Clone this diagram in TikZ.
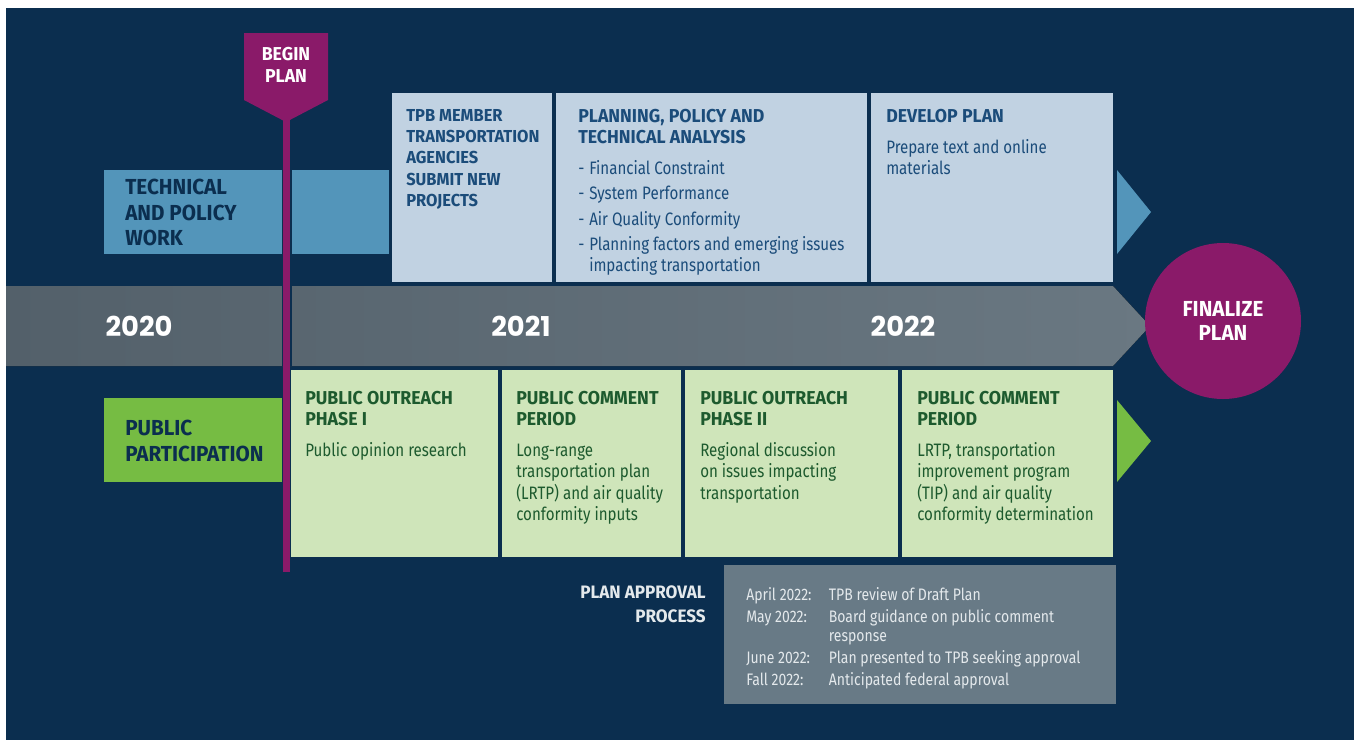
\documentclass[tikz,border=0pt]{standalone}
\usepackage{fontspec}
\setmainfont{Fira Sans}[UprightFeatures={FakeStretch=0.84}, BoldFeatures={FakeStretch=0.95}]
\newfontfamily\yearfont{Poppins}
\usepackage{xcolor}
\usetikzlibrary{positioning, calc}

\definecolor{navy}{HTML}{0B2E4F}
\definecolor{plum}{HTML}{8A1A69}
\definecolor{techblue}{HTML}{5395BA}
\definecolor{paleblue}{HTML}{C1D2E2}
\definecolor{bluetext}{HTML}{1B4C7A}
\definecolor{pubgreen}{HTML}{76BC43}
\definecolor{palegreen}{HTML}{CFE5BA}
\definecolor{greentext}{HTML}{1D5A2E}
\definecolor{bargray}{HTML}{53606A}
\definecolor{bargraylight}{HTML}{6A7882}
\definecolor{apprgray}{HTML}{687A86}
\definecolor{apprtext}{HTML}{E4E9EC}

\newcommand{\hd}[1]{{\fontsize{14}{16}\selectfont\bfseries #1}}

\begin{document}
\begin{tikzpicture}[
    x=0.75pt, y=-0.75pt,
    lane/.style={anchor=north west, inner sep=0, align=left, text=navy, font=\bfseries\fontsize{16.3}{19}\selectfont},
    bluetxt/.style={anchor=north west, inner sep=0, align=left, text=bluetext, font=\fontsize{13.5}{16}\selectfont},
    greentxt/.style={anchor=north west, inner sep=0, align=left, text=greentext, font=\fontsize{13.5}{16}\selectfont},
    year/.style={text=white, inner sep=0, font=\yearfont\bfseries\fontsize{20.5}{22}\selectfont},
    milestone/.style={text=white, align=center, inner sep=0, font=\bfseries\fontsize{16.3}{18}\selectfont}
    ]
    \useasboundingbox (0,0) rectangle (1354,740);
    \fill[navy] (6,8) rectangle (1354,740);

    % lanes
    \fill[techblue] (104,170) rectangle (389,254);
    \fill[techblue] (1117,170) -- (1151,212) -- (1117,254) -- cycle;
    \fill[pubgreen] (104,398) rectangle (282,482);
    \fill[pubgreen] (1117,400) -- (1151,441) -- (1117,482) -- cycle;
    \node[lane] (tech) at (125,179) {TECHNICAL\\AND POLICY\\WORK};
    \node[lane] (public) at (125,420) {PUBLIC\\PARTICIPATION};

    % time bar
    \fill[left color=bargray, right color=bargraylight] (6,286) -- (1113,286) -- (1150,326) -- (1113,366) -- (6,366) -- cycle;
    \node[year] (y2020) at (139,326) {2020};
    \node[year] (y2021) at (521,326) {2021};
    \node[year] (y2022) at (903,326) {2022};

    % technical work
    \fill[paleblue] (392,93) rectangle (552,282);
    \fill[paleblue] (556,93) rectangle (867,282);
    \fill[paleblue] (871,93) rectangle (1113,282);
    \node[bluetxt, font=\bfseries\fontsize{13}{16}\selectfont] (submit) at (406,109) {TPB MEMBER\\TRANSPORTATION\\AGENCIES\\SUBMIT NEW\\PROJECTS};
    \node[bluetxt] (analysis) at (578,109) {\hd{PLANNING, POLICY AND}\\\hd{TECHNICAL ANALYSIS}\\[7pt]
        \makebox[8.25pt][l]{-}Financial Constraint\\[3pt]
        \makebox[8.25pt][l]{-}System Performance\\[3pt]
        \makebox[8.25pt][l]{-}Air Quality Conformity\\[3pt]
        \makebox[8.25pt][l]{-}Planning factors and emerging issues\\
        \hspace*{8.25pt}impacting transportation};
    \node[bluetxt] (develop) at (886,109) {\hd{DEVELOP PLAN}\\[7pt]Prepare text and online\\materials};

    % public participation
    \fill[palegreen] (291,370) rectangle (498,557);
    \fill[palegreen] (502,370) rectangle (681,557);
    \fill[palegreen] (685,370) rectangle (898,557);
    \fill[palegreen] (902,370) rectangle (1113,557);
    \node[greentxt] (outreach1) at (305,391) {\hd{PUBLIC OUTREACH}\\\hd{PHASE I}\\[7pt]Public opinion research};
    \node[greentxt] (comment1) at (516,391) {\hd{PUBLIC COMMENT}\\\hd{PERIOD}\\[7pt]Long-range\\transportation plan\\(LRTP) and air quality\\conformity inputs};
    \node[greentxt] (outreach2) at (700,391) {\hd{PUBLIC OUTREACH}\\\hd{PHASE II}\\[7pt]Regional discussion\\on issues impacting\\transportation};
    \node[greentxt] (comment2) at (917,391) {\hd{PUBLIC COMMENT}\\\hd{PERIOD}\\[7pt]LRTP, transportation\\improvement program\\(TIP) and air quality\\conformity determination};

    % begin and finalize
    \fill[plum] (244,33) -- (328,33) -- (328,100) -- (286,122) -- (244,100) -- cycle;
    \node[milestone, font=\bfseries\fontsize{14}{16.5}\selectfont] (begin) at (286,65) {BEGIN\\PLAN};
    \coordinate (poletop) at (286.5,118);
    \coordinate (polebottom) at (286.5,572);
    \draw[navy, line width=7.5pt] (poletop |- 0,170) -- (poletop |- 0,366);
    \draw[plum, line width=5.2pt] (poletop) -- (polebottom);
    \node[milestone, circle, fill=plum, minimum size=117pt] (finalize) at (1223,321) {FINALIZE\\PLAN};

    % approval process
    \fill[apprgray] (724,565) rectangle (1116,704);
    \node[anchor=north east, inner sep=0, align=right, text=apprtext, font=\bfseries\fontsize{13.5}{18.5}\selectfont] (approval) at (706,585) {PLAN APPROVAL\\PROCESS};
    \node[anchor=north west, inner sep=0, align=left, text=apprtext, font=\fontsize{12.5}{14.5}\selectfont] (steps) at (746,587) {%
        \makebox[62pt][l]{April 2022:}TPB review of Draft Plan\\[2pt]
        \makebox[62pt][l]{May 2022:}Board guidance on public comment\\
        \hspace*{62pt}response\\[2pt]
        \makebox[62pt][l]{June 2022:}Plan presented to TPB seeking approval\\[2pt]
        \makebox[62pt][l]{Fall 2022:}Anticipated federal approval};
  \end{tikzpicture}
\end{document}
